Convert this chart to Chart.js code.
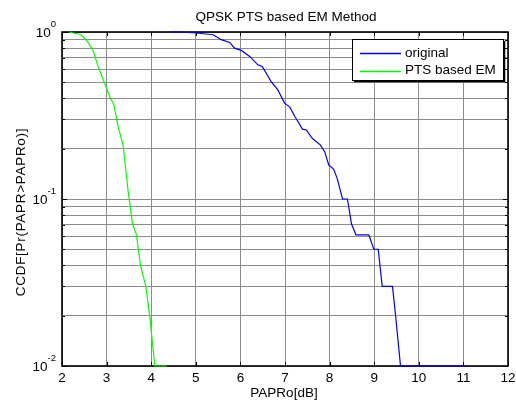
<!DOCTYPE html>
<html>
<head>
<meta charset="utf-8">
<script src="https://cdn.jsdelivr.net/npm/chart.js@4/dist/chart.umd.min.js"></script>
<style>
html,body{margin:0;padding:0;background:#fff;}
#c{display:block;}
</style>
</head>
<body>
<canvas id="c" width="516" height="400"></canvas>
<script>
const titleText = 'QPSK PTS based EM Method';
const xLabelText = 'PAPRo[dB]';
const yLabelText = 'CCDF[Pr(PAPR>PAPRo)]';
const seriesNames = ['original', 'PTS based EM'];
const seriesColors = ['#0000ff', '#00ff00'];

const xOriginal = [4.41, 4.64, 5.01, 5.39, 5.57, 5.76, 5.87, 6.02, 6.21, 6.39, 6.49, 6.69, 6.84, 6.99, 7.11, 7.22, 7.29, 7.39, 7.48, 7.61, 7.79, 7.89, 7.98, 8.09, 8.17, 8.29, 8.40, 8.49, 8.59, 8.88, 8.99, 9.09, 9.18, 9.41, 9.48, 9.59, 11.07];
const yOriginal = [1.0, 1.0, 0.986, 0.963, 0.90, 0.866, 0.80, 0.776, 0.714, 0.636, 0.622, 0.505, 0.45, 0.375, 0.355, 0.312, 0.291, 0.262, 0.259, 0.231, 0.211, 0.192, 0.160, 0.151, 0.133, 0.100, 0.100, 0.071, 0.061, 0.061, 0.050, 0.050, 0.030, 0.030, 0.020, 0.01, 0.01];

const xPTS = [2.17, 2.25, 2.40, 2.47, 2.58, 2.70, 2.81, 2.96, 3.07, 3.16, 3.26, 3.37, 3.48, 3.58, 3.67, 3.76, 3.88, 3.97, 4.08, 4.35];
const yPTS = [1.0, 0.986, 0.97, 0.94, 0.87, 0.77, 0.62, 0.49, 0.41, 0.37, 0.27, 0.21, 0.113, 0.071, 0.061, 0.040, 0.030, 0.0196, 0.01, 0.01];

const xTicks = [2, 3, 4, 5, 6, 7, 8, 9, 10, 11, 12];
const yDecades = [0.01, 0.1, 1];
const yDecadeExp = ['-2', '-1', '0'];
const yMinorTicks = [0.01, 0.02, 0.03, 0.04, 0.05, 0.06, 0.07, 0.08, 0.09, 0.1, 0.2, 0.3, 0.4, 0.5, 0.6, 0.7, 0.8, 0.9, 1];

const FONT = '"Liberation Sans", Arial, Helvetica, sans-serif';

function pts(xs, ys) { return xs.map((x, i) => ({x: x, y: ys[i]})); }

const decor = {
  id: 'decor',
  beforeDatasetsDraw(chart) {
    const ctx = chart.ctx, a = chart.chartArea;
    const xs = chart.scales.x, ys = chart.scales.y;
    ctx.save();
    ctx.strokeStyle = '#000';
    ctx.lineWidth = 1;
    ctx.beginPath();
    xTicks.forEach(v => {
      const px = Math.round(xs.getPixelForValue(v)) + 0.5;
      ctx.moveTo(px, a.bottom); ctx.lineTo(px, a.bottom - 4);
      ctx.moveTo(px, a.top); ctx.lineTo(px, a.top + 4);
    });
    yMinorTicks.forEach(v => {
      const py = Math.round(ys.getPixelForValue(v)) + 0.5;
      const len = yDecades.includes(v) ? 5 : 3;
      ctx.moveTo(a.left, py); ctx.lineTo(a.left + len, py);
      ctx.moveTo(a.right, py); ctx.lineTo(a.right - len, py);
    });
    ctx.stroke();
    ctx.lineWidth = 1.6;
    ctx.strokeRect(a.left, a.top, a.right - a.left, a.bottom - a.top);
    ctx.restore();
  },
  afterDraw(chart) {
    const ctx = chart.ctx, a = chart.chartArea;
    const xs = chart.scales.x, ys = chart.scales.y;
    ctx.save();
    ctx.fillStyle = '#000';
    ctx.font = '13.5px ' + FONT;
    ctx.textAlign = 'center';
    ctx.textBaseline = 'middle';
    ctx.fillText(titleText, (a.left + a.right) / 2 + 1, 17);
    xTicks.forEach(v => {
      ctx.fillText(String(v), xs.getPixelForValue(v), a.bottom + 12);
    });
    ctx.fillText(xLabelText, (a.left + a.right) / 2 - 1, 393);
    yDecades.forEach((v, i) => {
      const py = ys.getPixelForValue(v);
      ctx.font = '9.5px ' + FONT;
      const ew = ctx.measureText(yDecadeExp[i]).width;
      ctx.textAlign = 'right';
      ctx.textBaseline = 'middle';
      const right = 56;
      ctx.fillText(yDecadeExp[i], right, py - 8);
      ctx.font = '13.5px ' + FONT;
      ctx.fillText('10', right - ew, py + 1);
    });
    ctx.save();
    ctx.translate(21, 212);
    ctx.rotate(-Math.PI / 2);
    ctx.textAlign = 'center';
    ctx.textBaseline = 'middle';
    ctx.font = '13.5px ' + FONT;
    try { ctx.letterSpacing = '0.7px'; } catch (e) {}
    ctx.fillText(yLabelText, 0, 0);
    try { ctx.letterSpacing = '0px'; } catch (e) {}
    ctx.restore();
    // legend
    const bx = 352, by = 39, bw = 151, bh = 41;
    ctx.fillStyle = '#fff';
    ctx.fillRect(bx, by, bw, bh);
    ctx.strokeStyle = '#000';
    ctx.lineWidth = 1;
    ctx.strokeRect(bx + 0.5, by + 0.5, bw, bh);
    ctx.lineWidth = 1.5;
    ctx.beginPath();
    ctx.moveTo(bx + bw + 1.5, by + 2); ctx.lineTo(bx + bw + 1.5, by + bh + 1.5); ctx.lineTo(bx + 2, by + bh + 1.5);
    ctx.stroke();
    seriesNames.forEach((name, i) => {
      const cy = 53 + i * 17.5;
      ctx.strokeStyle = seriesColors[i];
      ctx.lineWidth = 1.3;
      ctx.beginPath();
      ctx.moveTo(360, Math.round(cy) + 0.5);
      ctx.lineTo(401, Math.round(cy) + 0.5);
      ctx.stroke();
      ctx.fillStyle = '#000';
      ctx.font = '13.5px ' + FONT;
      ctx.textAlign = 'left';
      ctx.textBaseline = 'middle';
      ctx.fillText(name, 405, cy);
    });
    ctx.restore();
  }
};

new Chart(document.getElementById('c'), {
  type: 'line',
  data: {
    datasets: [
      {label: seriesNames[0], data: pts(xOriginal, yOriginal), borderColor: seriesColors[0], borderWidth: 1.2, pointRadius: 0, tension: 0, fill: false, clip: false},
      {label: seriesNames[1], data: pts(xPTS, yPTS), borderColor: seriesColors[1], borderWidth: 1.2, pointRadius: 0, tension: 0, fill: false, clip: false}
    ]
  },
  options: {
    responsive: false,
    animation: false,
    devicePixelRatio: 1,
    layout: {padding: {left: 62, right: 8, top: 32, bottom: 34}},
    plugins: {legend: {display: false}, title: {display: false}, tooltip: {enabled: false}},
    scales: {
      x: {
        type: 'linear', min: 2, max: 12,
        afterBuildTicks: s => { s.ticks = xTicks.map(v => ({value: v})); },
        ticks: {display: false},
        grid: {color: '#8c8c8c', lineWidth: 1, drawTicks: false},
        border: {display: false}
      },
      y: {
        type: 'logarithmic', min: 0.01, max: 1,
        afterBuildTicks: s => { s.ticks = yMinorTicks.map(v => ({value: v})); },
        ticks: {display: false},
        grid: {color: '#8c8c8c', lineWidth: 1, drawTicks: false},
        border: {display: false}
      }
    }
  },
  plugins: [decor]
});
</script>
</body>
</html>
